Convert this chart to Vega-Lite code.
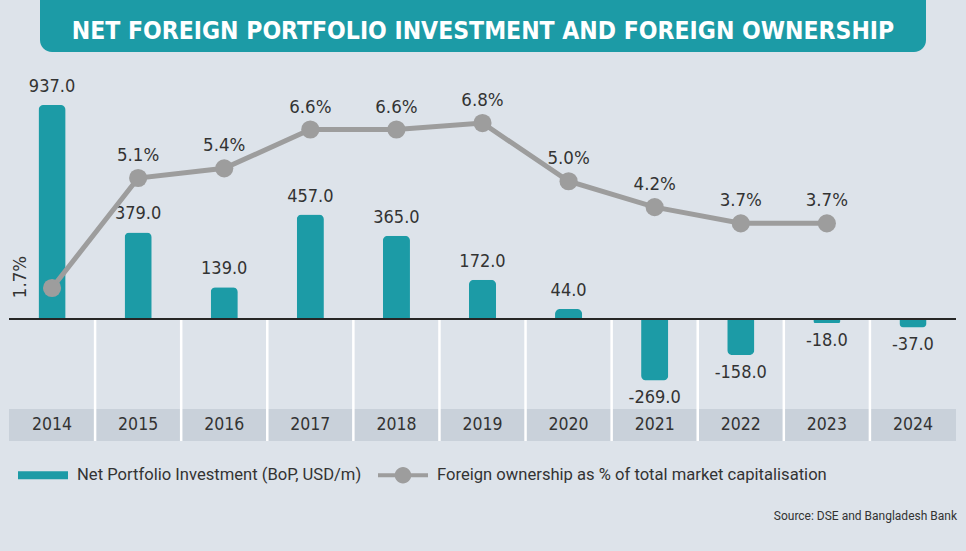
{
  "$schema": "https://vega.github.io/schema/vega-lite/v6.json",
  "background": "#dde3ea",
  "padding": {"left": 8, "right": 11, "top": 0, "bottom": 29},
  "spacing": 18,
  "center": true,
  "config": {
    "view": {"stroke": null},
    "font": "Roboto",
    "locale": {"number": {"decimal": ".", "thousands": ",", "grouping": [3], "currency": ["$", ""], "minus": "-"}}
  },
  "vconcat": [
    {
      "width": 886,
      "height": 52,
      "data": {"values": [{"t": "NET FOREIGN PORTFOLIO INVESTMENT AND FOREIGN OWNERSHIP"}]},
      "layer": [
        {"mark": {"type": "rect", "color": "#1c9ba6", "cornerRadiusBottomLeft": 12, "cornerRadiusBottomRight": 12}, "encoding": {}},
        {"mark": {"type": "text", "color": "#ffffff", "font": "DejaVu Sans Condensed, Roboto", "fontWeight": "bold", "fontSize": 24.5, "baseline": "middle", "align": "center", "dy": 6}, "encoding": {"text": {"field": "t"}}}
      ]
    },
    {
      "width": 947,
      "height": 371,
      "title": {"text": "Source: DSE and Bangladesh Bank", "orient": "bottom", "anchor": "end", "font": "Roboto", "fontSize": 12, "fontWeight": "normal", "color": "#333333", "offset": 69},
      "data": {"values": [
        {"year": "2014", "npi": 937, "pct": 0.017},
        {"year": "2015", "npi": 379, "pct": 0.051},
        {"year": "2016", "npi": 139, "pct": 0.054},
        {"year": "2017", "npi": 457, "pct": 0.066},
        {"year": "2018", "npi": 365, "pct": 0.066},
        {"year": "2019", "npi": 172, "pct": 0.068},
        {"year": "2020", "npi": 44, "pct": 0.050},
        {"year": "2021", "npi": -269, "pct": 0.042},
        {"year": "2022", "npi": -158, "pct": 0.037},
        {"year": "2023", "npi": -18, "pct": 0.037},
        {"year": "2024", "npi": -37, "pct": null}
      ]},
      "resolve": {"scale": {"y": "independent"}},
      "layer": [
        {
          "mark": {"type": "bar", "color": "#c9d1da"},
          "encoding": {
            "x": {"field": "year", "type": "ordinal", "scale": {"paddingInner": 0, "paddingOuter": 0}, "axis": null},
            "y": {"datum": -394, "type": "quantitative", "scale": {"domain": [-534, 1090], "nice": false, "zero": false}, "axis": null},
            "y2": {"datum": -534}
          }
        },
        {
          "transform": [{"filter": "datum.year != '2014'"}],
          "mark": {"type": "rule", "color": "#ffffff", "strokeWidth": 2.5},
          "encoding": {
            "x": {"field": "year", "type": "ordinal", "bandPosition": 0},
            "y": {"datum": -2, "type": "quantitative", "scale": {"domain": [-534, 1090], "nice": false, "zero": false}, "axis": null},
            "y2": {"datum": -534}
          }
        },
        {
          "transform": [{"filter": "datum.npi >= 0"}],
          "mark": {"type": "bar", "width": {"band": 0.315}, "cornerRadiusTopLeft": 5, "cornerRadiusTopRight": 5},
          "encoding": {
            "x": {"field": "year", "type": "ordinal"},
            "y": {"field": "npi", "type": "quantitative", "scale": {"domain": [-534, 1090], "nice": false, "zero": false}, "axis": null},
            "color": {
              "datum": "Net Portfolio Investment (BoP, USD/m)",
              "type": "nominal",
              "scale": {"domain": ["Net Portfolio Investment (BoP, USD/m)", "Foreign ownership as % of total market capitalisation"], "range": ["#1c9ba6", "#9d9d9d"]},
              "legend": {
                "orient": "none", "legendX": 9, "legendY": 450, "direction": "horizontal", "title": null,
                "symbolSize": 2500, "labelFont": "Roboto", "labelFontSize": 16.6, "labelColor": "#333333", "labelLimit": 600,
                "columnPadding": 16, "labelOffset": 9, "symbolStrokeWidth": 0,
                "encode": {"symbols": {"update": {
                  "shape": {"signal": "datum.value === 'Net Portfolio Investment (BoP, USD/m)' ? 'M-1,-0.16H1V0.16H-1Z' : 'M-1,-0.08H1V0.08H-1Z M0.33,0A0.33,0.33 0 1,1 -0.33,0A0.33,0.33 0 1,1 0.33,0Z'"},
                  "fill": {"signal": "datum.value === 'Net Portfolio Investment (BoP, USD/m)' ? '#1c9ba6' : '#9d9d9d'"},
                  "stroke": {"value": "transparent"},
                  "opacity": {"value": 1}
                }}}
              }
            }
          }
        },
        {
          "transform": [{"filter": "datum.npi < 0"}],
          "mark": {"type": "bar", "width": {"band": 0.315}, "cornerRadiusBottomLeft": 5, "cornerRadiusBottomRight": 5},
          "encoding": {
            "x": {"field": "year", "type": "ordinal"},
            "y": {"field": "npi", "type": "quantitative", "scale": {"domain": [-534, 1090], "nice": false, "zero": false}, "axis": null},
            "color": {"datum": "Net Portfolio Investment (BoP, USD/m)", "type": "nominal"}
          }
        },
        {
          "mark": {"type": "rule", "color": "#262626", "strokeWidth": 2},
          "encoding": {
            "y": {"datum": 0, "type": "quantitative", "scale": {"domain": [-534, 1090], "nice": false, "zero": false}, "axis": null}
          }
        },
        {
          "transform": [{"filter": "datum.npi >= 0"}],
          "mark": {"type": "text", "font": "DejaVu Sans Condensed, Roboto", "fontSize": 18, "color": "#333333", "baseline": "middle", "dy": -18},
          "encoding": {
            "x": {"field": "year", "type": "ordinal"},
            "y": {"field": "npi", "type": "quantitative", "scale": {"domain": [-534, 1090], "nice": false, "zero": false}, "axis": null},
            "text": {"field": "npi", "type": "quantitative", "format": ".1f"}
          }
        },
        {
          "transform": [{"filter": "datum.npi < 0"}],
          "mark": {"type": "text", "font": "DejaVu Sans Condensed, Roboto", "fontSize": 18, "color": "#333333", "baseline": "middle", "dy": 18},
          "encoding": {
            "x": {"field": "year", "type": "ordinal"},
            "y": {"field": "npi", "type": "quantitative", "scale": {"domain": [-534, 1090], "nice": false, "zero": false}, "axis": null},
            "text": {"field": "npi", "type": "quantitative", "format": ".1f"}
          }
        },
        {
          "transform": [{"filter": "datum.pct != null"}],
          "mark": {"type": "line", "strokeWidth": 5},
          "encoding": {
            "x": {"field": "year", "type": "ordinal"},
            "y": {"field": "pct", "type": "quantitative", "scale": {"domain": [-0.0303, 0.0844], "nice": false, "zero": false}, "axis": null},
            "color": {"datum": "Foreign ownership as % of total market capitalisation", "type": "nominal"}
          }
        },
        {
          "transform": [{"filter": "datum.pct != null"}],
          "mark": {"type": "circle", "size": 330, "opacity": 1},
          "encoding": {
            "x": {"field": "year", "type": "ordinal"},
            "y": {"field": "pct", "type": "quantitative", "scale": {"domain": [-0.0303, 0.0844], "nice": false, "zero": false}, "axis": null},
            "color": {"datum": "Foreign ownership as % of total market capitalisation", "type": "nominal"}
          }
        },
        {
          "transform": [{"filter": "datum.pct != null && datum.year != '2014'"}],
          "mark": {"type": "text", "font": "DejaVu Sans Condensed, Roboto", "fontSize": 18.5, "color": "#333333", "baseline": "middle", "dy": -23},
          "encoding": {
            "x": {"field": "year", "type": "ordinal"},
            "y": {"field": "pct", "type": "quantitative", "scale": {"domain": [-0.0303, 0.0844], "nice": false, "zero": false}, "axis": null},
            "text": {"field": "pct", "type": "quantitative", "format": ".1%"}
          }
        },
        {
          "transform": [{"filter": "datum.year == '2014'"}],
          "mark": {"type": "text", "font": "DejaVu Sans Condensed, Roboto", "fontSize": 18.5, "color": "#333333", "baseline": "middle", "align": "center", "angle": 270, "dx": 11, "dy": -32},
          "encoding": {
            "x": {"field": "year", "type": "ordinal"},
            "y": {"field": "pct", "type": "quantitative", "scale": {"domain": [-0.0303, 0.0844], "nice": false, "zero": false}, "axis": null},
            "text": {"field": "pct", "type": "quantitative", "format": ".1%"}
          }
        },
        {
          "mark": {"type": "text", "font": "DejaVu Sans Condensed, Roboto", "fontSize": 17.5, "color": "#333333", "baseline": "middle"},
          "encoding": {
            "x": {"field": "year", "type": "ordinal"},
            "y": {"datum": -464, "type": "quantitative", "scale": {"domain": [-534, 1090], "nice": false, "zero": false}, "axis": null},
            "text": {"field": "year"}
          }
        }
      ]
    }
  ]
}
